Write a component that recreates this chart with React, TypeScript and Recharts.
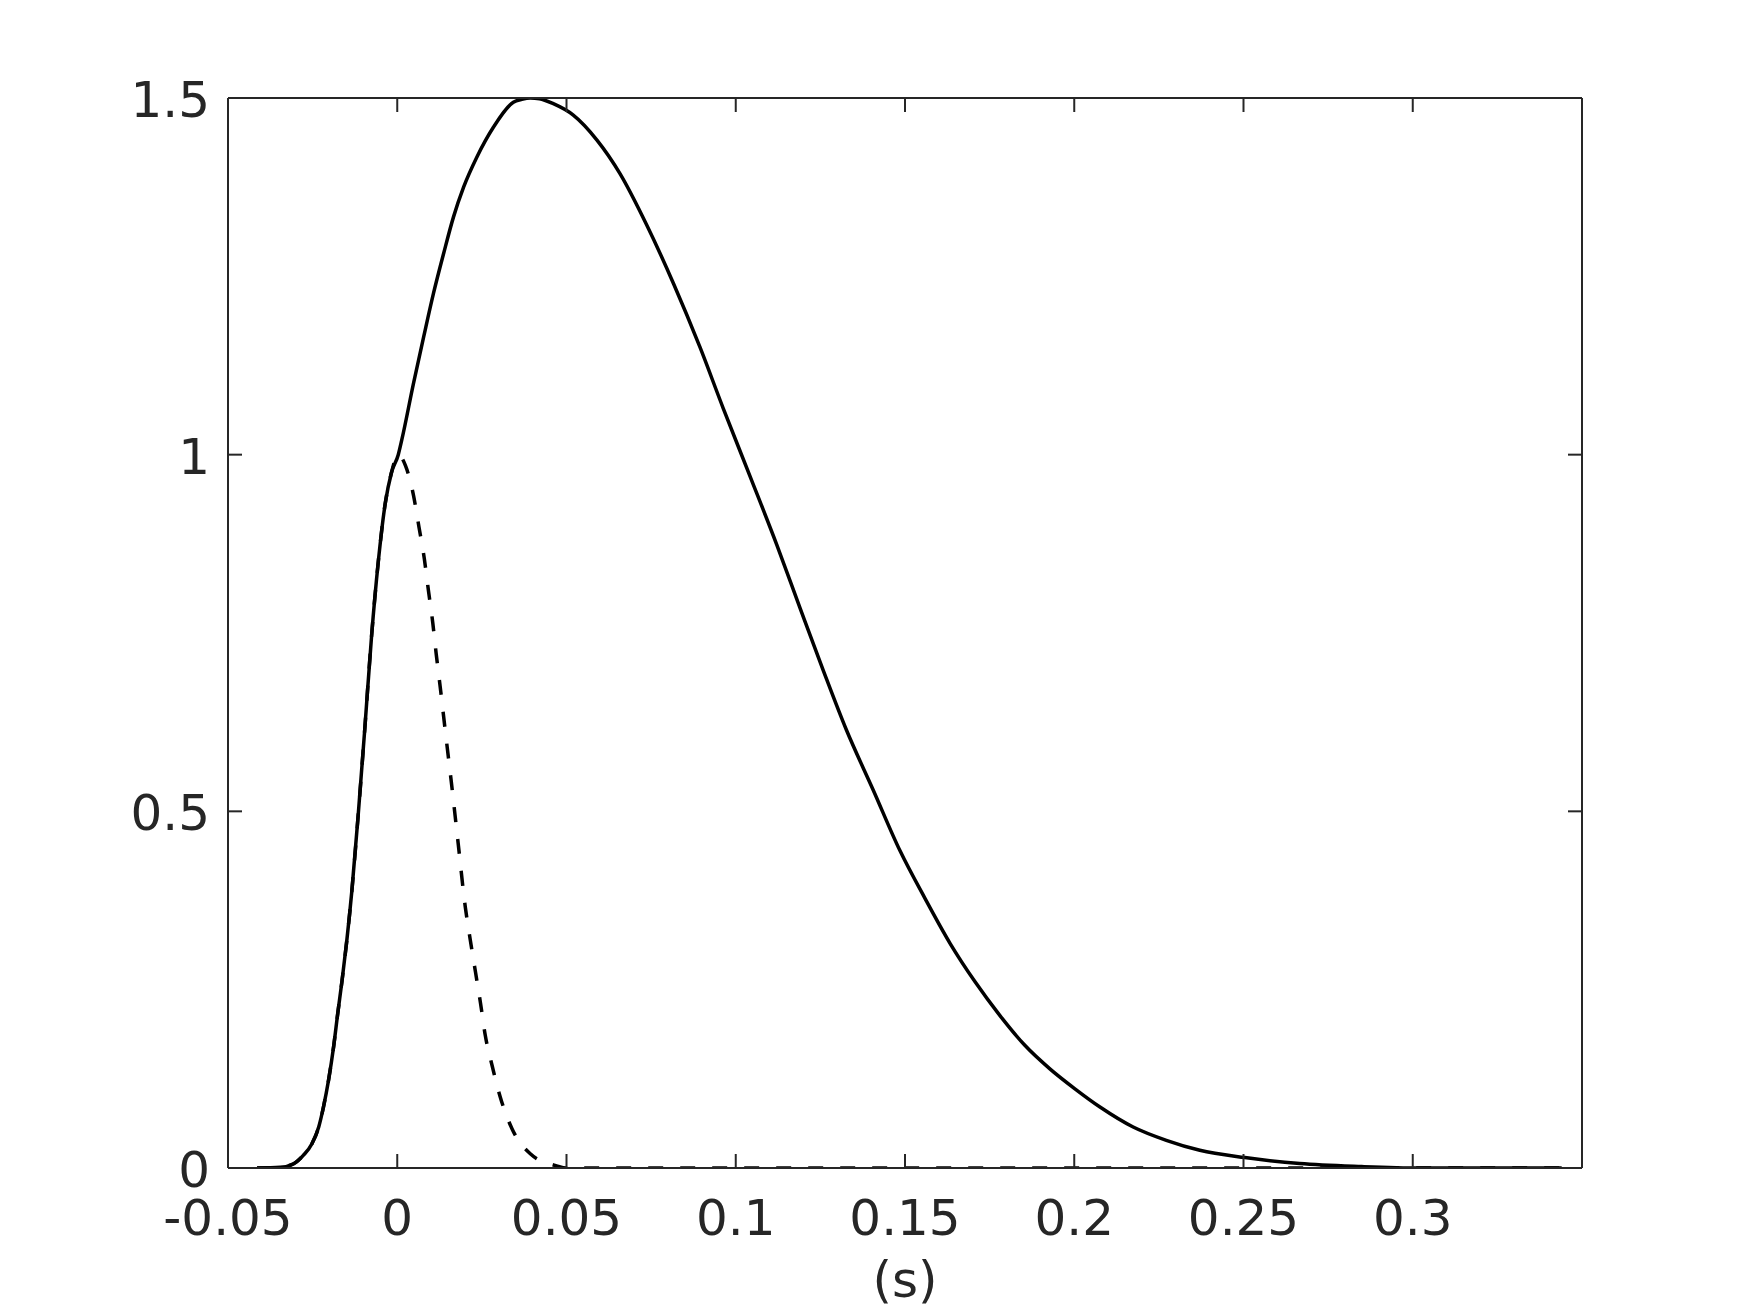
import { Line, LineChart, XAxis, YAxis } from "recharts";

// shared rising part (both curves follow it up to t = 0)
const riseX = [-0.0414, -0.0346, -0.0306, -0.0277, -0.0252, -0.0232, -0.0218, -0.0203, -0.0188, -0.0176, -0.0163, -0.0149, -0.0134, -0.0115, -0.0096, -0.0076, -0.0056, -0.0036, -0.0017, 0.0003];
const riseY = [0, 0.001, 0.006, 0.018, 0.034, 0.0575, 0.0855, 0.123, 0.17, 0.216, 0.263, 0.319, 0.389, 0.497, 0.615, 0.745, 0.85, 0.93, 0.975, 1.0];

// solid curve after t = 0
const solidTailX = [0.0014, 0.0048, 0.0078, 0.0107, 0.0137, 0.0166, 0.0196, 0.0235, 0.0284, 0.0343, 0.0368, 0.0393, 0.042, 0.0461, 0.052, 0.059, 0.0658, 0.0737, 0.0816, 0.0894, 0.0963, 0.1042, 0.1121, 0.119, 0.1259, 0.1327, 0.1406, 0.1485, 0.1559, 0.1633, 0.1707, 0.178, 0.1854, 0.1928, 0.2002, 0.2076, 0.2174, 0.2272, 0.2371, 0.2504, 0.2666, 0.2849, 0.302, 0.344];
const solidTailY = [1.022, 1.1, 1.165, 1.226, 1.282, 1.333, 1.375, 1.417, 1.459, 1.494, 1.498, 1.5, 1.499, 1.492, 1.476, 1.441, 1.394, 1.322, 1.24, 1.151, 1.065, 0.97, 0.874, 0.785, 0.697, 0.614, 0.53, 0.445, 0.378, 0.315, 0.261, 0.214, 0.172, 0.139, 0.111, 0.0855, 0.0575, 0.0388, 0.0248, 0.0146, 0.0062, 0.002, 0, 0];

// dashed curve after t = 0
const dashedTailX = [0.0024, 0.0048, 0.0064, 0.008, 0.0092, 0.0105, 0.0115, 0.0127, 0.0145, 0.016, 0.018, 0.0201, 0.0216, 0.0231, 0.0246, 0.026, 0.028, 0.0304, 0.0339, 0.0393, 0.0471, 0.05, 0.344];
const dashedTailY = [0.985, 0.943, 0.899, 0.854, 0.81, 0.764, 0.721, 0.674, 0.6, 0.54, 0.455, 0.366, 0.319, 0.275, 0.231, 0.186, 0.144, 0.1, 0.055, 0.02, 0.003, 0, 0];

const xTicks = [-0.05, 0, 0.05, 0.1, 0.15, 0.2, 0.25, 0.3];
const yTicks = [0, 0.5, 1, 1.5];
const xLabel = "(s)";

const toPoints = (xs: number[], ys: number[]) => xs.map((x, i) => ({ x, y: ys[i] }));
const solidData = toPoints([...riseX, ...solidTailX], [...riseY, ...solidTailY]);
const dashedData = toPoints([...riseX, ...dashedTailX], [...riseY, ...dashedTailY]);

const BOX = { left: 228, right: 1582, top: 98, bottom: 1168 };
const TICK_LEN = 14;
const AXIS_COLOR = "#262626";
const FONT = "'DejaVu Sans', sans-serif";
const FONT_SIZE = 50;

const XTick = (props: any) => {
  const { x, payload } = props;
  return (
    <g>
      <line x1={x} x2={x} y1={BOX.bottom} y2={BOX.bottom - TICK_LEN} stroke={AXIS_COLOR} strokeWidth={2} />
      <line x1={x} x2={x} y1={BOX.top} y2={BOX.top + TICK_LEN} stroke={AXIS_COLOR} strokeWidth={2} />
      <text x={x} y={BOX.bottom + 67} textAnchor="middle" fill={AXIS_COLOR} fontFamily={FONT} fontSize={FONT_SIZE}>
        {String(payload.value)}
      </text>
    </g>
  );
};

const YTick = (props: any) => {
  const { y, payload } = props;
  return (
    <g>
      <line x1={BOX.left} x2={BOX.left + TICK_LEN} y1={y} y2={y} stroke={AXIS_COLOR} strokeWidth={2} />
      <line x1={BOX.right} x2={BOX.right - TICK_LEN} y1={y} y2={y} stroke={AXIS_COLOR} strokeWidth={2} />
      <text x={BOX.left - 18} y={y + 19} textAnchor="end" fill={AXIS_COLOR} fontFamily={FONT} fontSize={FONT_SIZE}>
        {String(payload.value)}
      </text>
    </g>
  );
};

export default function App() {
  return (
    <div style={{ position: "absolute", left: 0, top: 0, background: "#fff" }}>
      <LineChart width={1750} height={1313} margin={{ top: 68, right: 108, left: 0, bottom: 0 }}>
        <XAxis
          dataKey="x"
          type="number"
          domain={[-0.05, 0.35]}
          ticks={xTicks}
          interval={0}
          allowDataOverflow
          height={145}
          tickSize={0}
          tick={<XTick />}
          axisLine={{ stroke: AXIS_COLOR, strokeWidth: 2 }}
          label={{ value: xLabel, position: "insideBottom", offset: 16, fill: AXIS_COLOR, fontSize: FONT_SIZE, fontFamily: FONT }}
        />
        <XAxis
          xAxisId="top"
          orientation="top"
          type="number"
          domain={[-0.05, 0.35]}
          height={30}
          tick={false}
          tickLine={false}
          axisLine={{ stroke: AXIS_COLOR, strokeWidth: 2 }}
        />
        <YAxis
          type="number"
          domain={[0, 1.5]}
          ticks={yTicks}
          interval={0}
          allowDataOverflow
          width={228}
          tickSize={0}
          tick={<YTick />}
          axisLine={{ stroke: AXIS_COLOR, strokeWidth: 2 }}
        />
        <YAxis
          yAxisId="right"
          orientation="right"
          type="number"
          domain={[0, 1.5]}
          width={60}
          tick={false}
          tickLine={false}
          axisLine={{ stroke: AXIS_COLOR, strokeWidth: 2 }}
        />
        <Line
          data={dashedData}
          dataKey="y"
          type="monotone"
          stroke="#000"
          strokeWidth={3.5}
          strokeDasharray="15 17"
          dot={false}
          activeDot={false}
          isAnimationActive={false}
        />
        <Line
          data={solidData}
          dataKey="y"
          type="monotone"
          stroke="#000"
          strokeWidth={3.5}
          dot={false}
          activeDot={false}
          isAnimationActive={false}
        />
      </LineChart>
    </div>
  );
}
